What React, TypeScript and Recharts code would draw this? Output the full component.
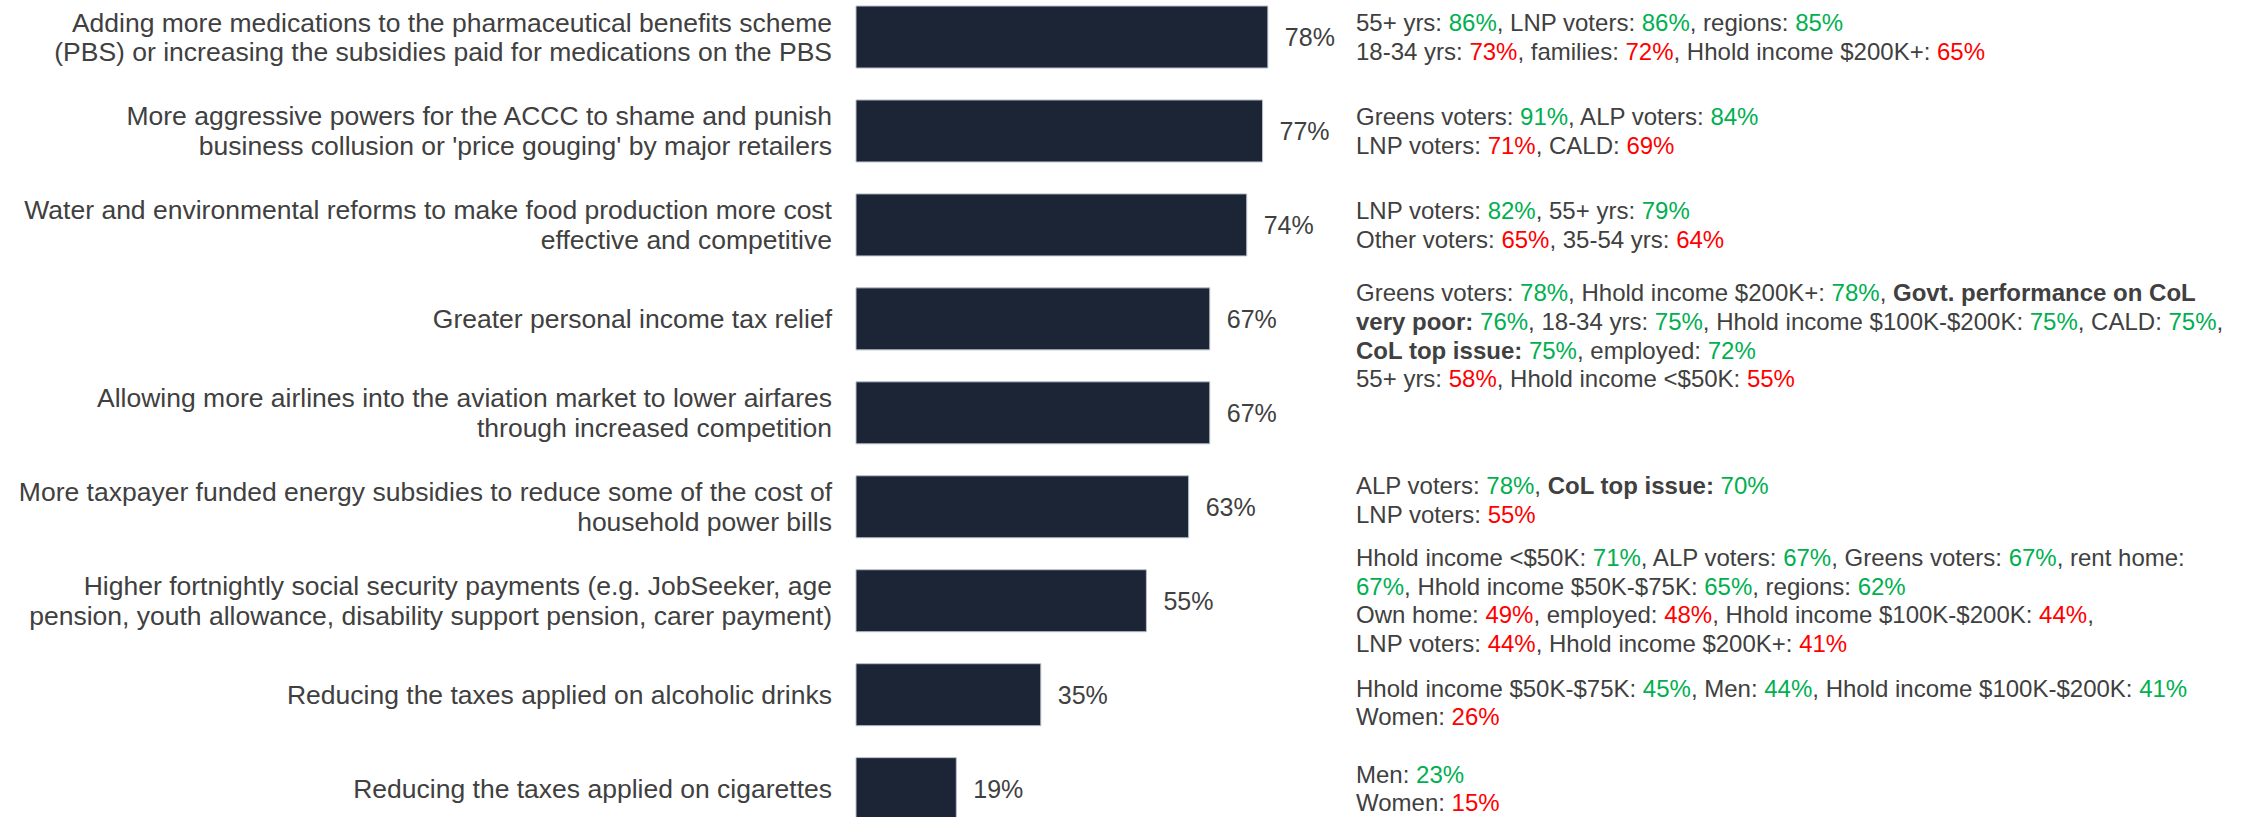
import React from "react";
import { BarChart, Bar, XAxis, YAxis, LabelList } from "recharts";

// ---- Data ----
const categoryLines: string[][] = [
  ["Adding more medications to the pharmaceutical benefits scheme", "(PBS) or increasing the subsidies paid for medications on the PBS"],
  ["More aggressive powers for the ACCC to shame and punish", "business collusion or 'price gouging' by major retailers"],
  ["Water and environmental reforms to make food production more cost", "effective and competitive"],
  ["Greater personal income tax relief"],
  ["Allowing more airlines into the aviation market to lower airfares", "through increased competition"],
  ["More taxpayer funded energy subsidies to reduce some of the cost of", "household power bills"],
  ["Higher fortnightly social security payments (e.g. JobSeeker, age", "pension, youth allowance, disability support pension, carer payment)"],
  ["Reducing the taxes applied on alcoholic drinks"],
  ["Reducing the taxes applied on cigarettes"],
];

const categories: string[] = categoryLines.map((l) => l.join(" "));

const supportValues: number[] = [78, 77, 74, 67, 67, 63, 55, 35, 19];

// Markup: {g..} = green (higher), {r..} = red (lower), *..* = bold
const annotations: string[][] = [
  [
    "55+ yrs: {g86%}, LNP voters: {g86%}, regions: {g85%}",
    "18-34 yrs: {r73%}, families: {r72%}, Hhold income $200K+: {r65%}",
  ],
  ["Greens voters: {g91%}, ALP voters: {g84%}", "LNP voters: {r71%}, CALD: {r69%}"],
  ["LNP voters: {g82%}, 55+ yrs: {g79%}", "Other voters: {r65%}, 35-54 yrs: {r64%}"],
  [
    "Greens voters: {g78%}, Hhold income $200K+: {g78%}, *Govt. performance on CoL*",
    "*very poor:* {g76%}, 18-34 yrs: {g75%}, Hhold income $100K-$200K: {g75%}, CALD: {g75%},",
    "*CoL top issue:* {g75%}, employed: {g72%}",
    "55+ yrs: {r58%}, Hhold income <$50K: {r55%}",
  ],
  [],
  ["ALP voters: {g78%}, *CoL top issue:* {g70%}", "LNP voters: {r55%}"],
  [
    "Hhold income <$50K: {g71%}, ALP voters: {g67%}, Greens voters: {g67%}, rent home:",
    "{g67%}, Hhold income $50K-$75K: {g65%}, regions: {g62%}",
    "Own home: {r49%}, employed: {r48%}, Hhold income $100K-$200K: {r44%},",
    "LNP voters: {r44%}, Hhold income $200K+: {r41%}",
  ],
  [
    "Hhold income $50K-$75K: {g45%}, Men: {g44%}, Hhold income $100K-$200K: {g41%}",
    "Women: {r26%}",
  ],
  ["Men: {g23%}", "Women: {r15%}"],
];

// ---- Layout / style constants ----
const FONT = "'Liberation Sans', Arial, Helvetica, sans-serif";
const TEXT = "#404040";
const GREEN = "#00B050";
const RED = "#FF0000";
const BAR = "#1B2536";
const ANNOT_X = 1356;
const ANNOT_LH = 28.7;
const annotationNudge: number[] = [0, 0, 0, 17, 0, -7, 0, 8, 0];

const data = categories.map((name, i) => ({ name, value: supportValues[i] }));

function parseLine(line: string) {
  const parts = line.split(/(\{[gr][^}]*\}|\*[^*]*\*)/).filter((p) => p.length > 0);
  return parts.map((p) => {
    if (p.startsWith("{g")) return { text: p.slice(2, -1), fill: GREEN, bold: false };
    if (p.startsWith("{r")) return { text: p.slice(2, -1), fill: RED, bold: false };
    if (p.startsWith("*")) return { text: p.slice(1, -1), fill: TEXT, bold: true };
    return { text: p, fill: TEXT, bold: false };
  });
}

const CategoryTick = (props: any) => {
  const { x, y, payload } = props;
  const idx = categories.indexOf(payload.value);
  const lines = idx >= 0 ? categoryLines[idx] : [String(payload.value)];
  const lh = 29.5;
  const tx = x - 24;
  return (
    <text x={tx} y={y} textAnchor="end" fill={TEXT} fontSize={26.5} fontFamily={FONT}>
      {lines.map((l, i) => (
        <tspan key={i} x={tx} y={y + (i - (lines.length - 1) / 2) * lh} dy="0.35em">
          {l}
        </tspan>
      ))}
    </text>
  );
};

const Annotation = (props: any) => {
  const { y, height, value } = props;
  const idx = categories.indexOf(value);
  if (idx < 0) return null;
  const lines = annotations[idx];
  if (!lines || lines.length === 0) return null;
  const cy = Number(y) + Number(height) / 2 + annotationNudge[idx];
  return (
    <text x={ANNOT_X} y={cy} fontSize={24} fontFamily={FONT} fill={TEXT} textAnchor="start">
      {lines.map((l, i) => (
        <tspan key={i} x={ANNOT_X} y={cy + (i - (lines.length - 1) / 2) * ANNOT_LH} dy="0.35em">
          {parseLine(l).map((s, j) => (
            <tspan key={j} fill={s.fill} fontWeight={s.bold ? "bold" : "normal"}>
              {s.text}
            </tspan>
          ))}
        </tspan>
      ))}
    </text>
  );
};

export default function App() {
  return (
    <div
      style={{
        position: "absolute",
        left: 0,
        top: 0,
        width: 2246,
        height: 817,
        overflow: "hidden",
        background: "#ffffff",
      }}
    >
      <div style={{ position: "absolute", left: 0, top: -20 }}>
        <BarChart
          width={2246}
          height={866}
          data={data}
          layout="vertical"
          margin={{ top: 10, right: 862, bottom: 10.4, left: 0 }}
        >
          <XAxis type="number" domain={[0, 100]} hide />
          <YAxis
            type="category"
            dataKey="name"
            width={856}
            tickLine={false}
            axisLine={false}
            tickSize={0}
            tickMargin={0}
            interval={0}
            tick={<CategoryTick />}
          />
          <Bar
            dataKey="value"
            fill={BAR}
            stroke="#b8bfca"
            strokeWidth={1}
            barSize={62}
            isAnimationActive={false}
          >
            <LabelList
              dataKey="value"
              position="right"
              offset={17}
              formatter={(v: any) => `${v}%`}
              fill={TEXT}
              fontSize={25}
              fontFamily={FONT}
            />
            <LabelList dataKey="name" content={(p: any) => <Annotation {...p} />} />
          </Bar>
        </BarChart>
      </div>
    </div>
  );
}
